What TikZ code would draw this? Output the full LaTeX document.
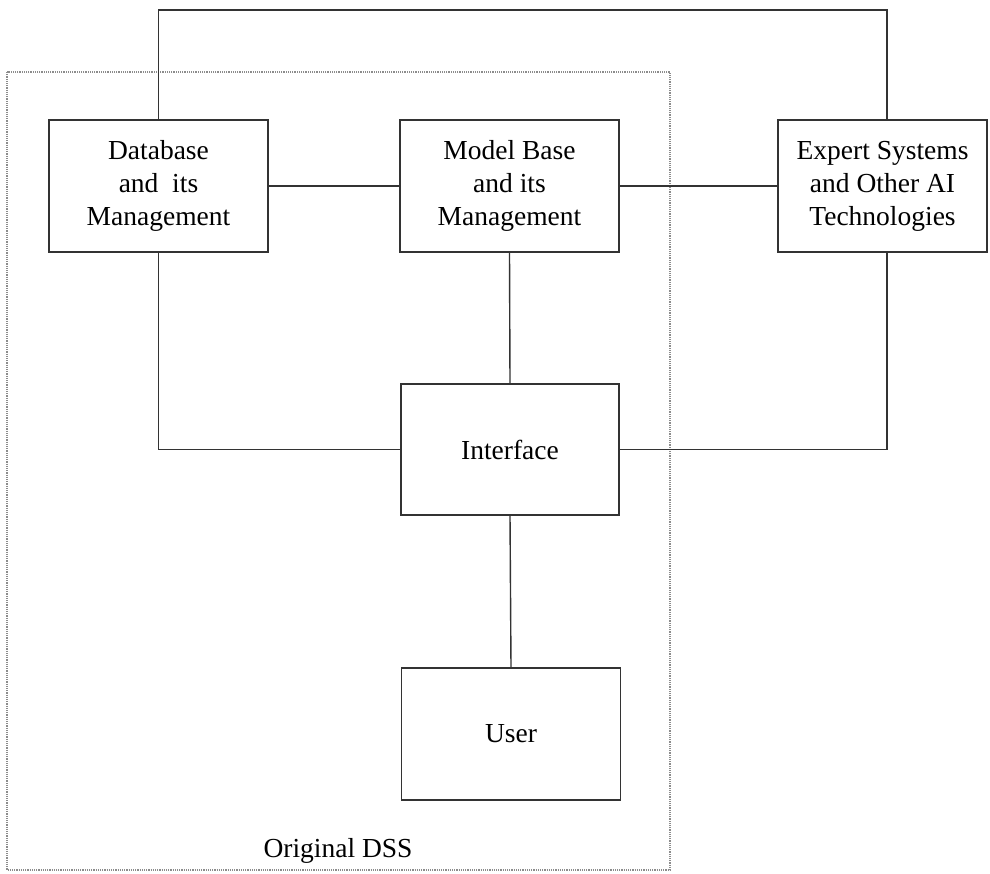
\documentclass[tikz,border=0pt]{standalone}
\usepackage{fontspec}
\setmainfont{Liberation Serif}
\begin{document}
\begin{tikzpicture}[x=1pt,y=-1pt,
  box/.style={draw=black!80, line width=1.4pt, rectangle, align=center,
    minimum width=219pt, minimum height=132pt, inner sep=0pt,
    font=\fontsize{27.5}{33}\selectfont},
  link/.style={draw=black!80, line width=1.4pt},
  frame/.style={draw=black!45, line width=1.2pt, densely dotted}]
\useasboundingbox (0,0) rectangle (990,873);

% boundary of the original DSS
\draw[frame] (7,72) rectangle (670,870);
\node[font=\fontsize{27.5}{33}\selectfont, anchor=base] (dsslabel) at (338,857) {Original DSS};

% components
\node[box] (db) at (158.5,186) {Database\\and\ \ its\\Management};
\node[box] (mb) at (509.5,186) {Model Base\\and its\\Management};
\node[box, minimum width=209pt] (ex) at (882.5,186) {Expert Systems\\and Other AI\\Technologies};
\node[box, minimum width=218pt, minimum height=131pt] (if) at (510,449.5) {Interface};
\node[box] (user) at (511,734) {User};

% connections
\coordinate (top) at (0,10);
\coordinate (exn) at ([xshift=4.5pt]ex.north);
\coordinate (exs) at ([xshift=4.5pt]ex.south);
\draw[link] (db.north) -- (db.north |- top) -| (exn);
\draw[link] (db.east) -- (mb.west);
\draw[link] (mb.east) -- (ex.west);
\draw[link] (mb.south) -- (if.north);
\draw[link] (db.south) |- (if.west);
\draw[link] (if.east) -| (exs);
\draw[link] (if.south) -- (user.north);
\end{tikzpicture}
\end{document}
